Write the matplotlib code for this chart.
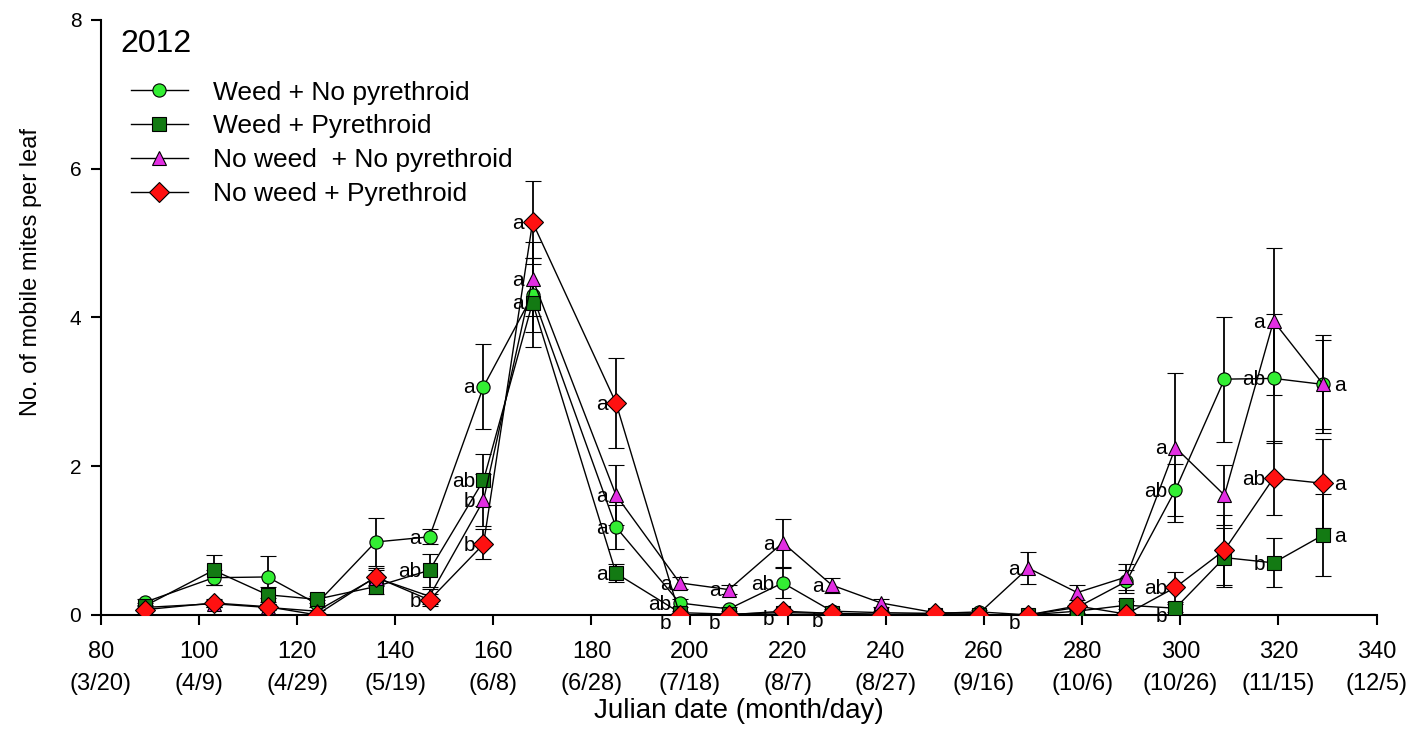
import numpy as np
import matplotlib.pyplot as plt
from matplotlib.lines import Line2D

plt.rcParams['font.family'] = ['Liberation Sans', 'DejaVu Sans']

days = [89, 103, 114, 124, 136, 147, 158, 168, 185, 198, 208, 219,
        229, 239, 250, 259, 269, 279, 289, 299, 309, 319, 329]

weed_nopyr = [0.17, 0.5, 0.51, 0.15, 0.98, 1.05, 3.07, 4.3, 1.18, 0.16, 0.08, 0.43,
              0.05, 0.03, 0.02, 0.04, 0.0, 0.1, 0.45, 1.68, 3.17, 3.18, 3.1]
weed_nopyr_se = [0.05, 0.1, 0.28, 0.05, 0.32, 0.1, 0.57, 0.5, 0.3, 0.05, 0.03, 0.2,
                 0.03, 0.02, 0.01, 0.02, 0.01, 0.04, 0.15, 0.35, 0.84, 0.87, 0.6]

weed_pyr = [0.12, 0.6, 0.27, 0.21, 0.38, 0.6, 1.81, 4.2, 0.56, 0.03, 0.01, 0.03,
            0.02, 0.01, 0.0, 0.0, 0.0, 0.05, 0.13, 0.09, 0.77, 0.7, 1.07]
weed_pyr_se = [0.04, 0.2, 0.1, 0.05, 0.1, 0.22, 0.35, 0.6, 0.12, 0.02, 0.01, 0.02,
               0.01, 0.01, 0.0, 0.0, 0.0, 0.03, 0.05, 0.05, 0.4, 0.33, 0.55]

noweed_nopyr = [0.1, 0.15, 0.1, 0.05, 0.5, 0.25, 1.54, 4.52, 1.61, 0.43, 0.34, 0.97,
                0.4, 0.16, 0.03, 0.02, 0.63, 0.3, 0.51, 2.25, 1.61, 3.95, 3.11]
noweed_nopyr_se = [0.03, 0.05, 0.04, 0.02, 0.1, 0.1, 0.35, 0.5, 0.4, 0.08, 0.06, 0.32,
                   0.1, 0.05, 0.01, 0.01, 0.22, 0.1, 0.18, 1.0, 0.4, 0.99, 0.66]

noweed_pyr = [0.07, 0.16, 0.11, 0.0, 0.51, 0.2, 0.95, 5.28, 2.85, 0.0, 0.0, 0.05,
              0.02, 0.0, 0.02, 0.0, 0.0, 0.12, 0.01, 0.37, 0.87, 1.84, 1.77]
noweed_pyr_se = [0.02, 0.05, 0.03, 0.0, 0.12, 0.08, 0.2, 0.56, 0.6, 0.0, 0.0, 0.02,
                 0.01, 0.0, 0.01, 0.0, 0.0, 0.04, 0.0, 0.2, 0.47, 0.5, 0.6]

series_names = ['Weed + No pyrethroid', 'Weed + Pyrethroid',
                'No weed  + No pyrethroid', 'No weed + Pyrethroid']

xticks = [80, 100, 120, 140, 160, 180, 200, 220, 240, 260, 280, 300, 320, 340]
xdates = ['3/20', '4/9', '4/29', '5/19', '6/8', '6/28', '7/18', '8/7',
          '8/27', '9/16', '10/6', '10/26', '11/15', '12/5']

# letters: (day, letter) per series
letters_g = [(147, 'a'), (158, 'a'), (185, 'a'), (198, 'ab'), (219, 'ab'),
             (299, 'ab'), (319, 'ab')]
letters_s = [(147, 'ab'), (158, 'ab'), (168, 'a'), (185, 'a'), (299, 'b'),
             (319, 'b'), (329, 'a')]
letters_t = [(158, 'b'), (168, 'a'), (185, 'a'), (198, 'a'), (208, 'a'), (219, 'a'),
             (229, 'a'), (269, 'a'), (299, 'a'), (319, 'a'), (329, 'a')]
letters_r = [(147, 'b'), (158, 'b'), (168, 'a'), (185, 'a'), (198, 'b'), (208, 'b'),
             (219, 'b'), (229, 'b'), (269, 'b'), (299, 'ab'), (319, 'ab'), (329, 'a')]

fig = plt.figure(figsize=(14.09, 7.32), dpi=100)
ax = fig.add_axes([0.0715, 0.16, 0.9055, 0.8127])

styles = [
    dict(marker='o', mfc='#33ee33', ms=9.5),
    dict(marker='s', mfc='#137a13', ms=10),
    dict(marker='^', mfc='#e22ee2', ms=10.5),
    dict(marker='D', mfc='#ff1111', ms=10.5),
]
data = [(weed_nopyr, weed_nopyr_se), (weed_pyr, weed_pyr_se),
        (noweed_nopyr, noweed_nopyr_se), (noweed_pyr, noweed_pyr_se)]
all_letters = [letters_g, letters_s, letters_t, letters_r]

handles = []
for (vals, se), st, name in zip(data, styles, series_names):
    ax.errorbar(days, vals, yerr=se, color='black', lw=1.0, elinewidth=1.3,
                capsize=6, capthick=1.3, marker=st['marker'], ms=st['ms'],
                mfc=st['mfc'], mec='black', mew=0.8, zorder=3)
    handles.append(Line2D([], [], color='black', lw=1.0, marker=st['marker'],
                          ms=st['ms'], mfc=st['mfc'], mec='black', mew=0.8))

for (vals, se), lets in zip(data, all_letters):
    for d, lt in lets:
        i = days.index(d)
        if d == 329:
            ax.annotate(lt, (d, vals[i]), xytext=(8, -1), textcoords='offset points',
                        ha='left', va='center', fontsize=15)
        else:
            dy = -1
            if lt == 'b' and vals[i] < 0.1:
                dy = -6
            ax.annotate(lt, (d, vals[i]), xytext=(-6, dy), textcoords='offset points',
                        ha='right', va='center', fontsize=15)

ax.set_xlim(80, 340)
ax.set_ylim(0, 8)
ax.set_xticks(xticks)
ax.set_xticklabels([f'{t}\n({d})' for t, d in zip(xticks, xdates)],
                   fontsize=17, linespacing=1.6)
ax.set_yticks([0, 2, 4, 6, 8])
ax.tick_params(axis='both', direction='out', length=7, width=1.5)
ax.tick_params(axis='x', pad=12)
ax.tick_params(axis='y', pad=7, labelsize=15)
for sp in ['top', 'right']:
    ax.spines[sp].set_visible(False)
for sp in ['left', 'bottom']:
    ax.spines[sp].set_linewidth(1.5)

ax.set_xlabel('Julian date (month/day)', fontsize=20, labelpad=2)
ax.set_ylabel('No. of mobile mites per leaf', fontsize=17)
ax.yaxis.set_label_coords(-0.046, 0.576)

fig.text(120 / 1409, 1 - 44 / 732, '2012', fontsize=23, va='center', ha='left')
ax.legend(handles, series_names, loc='upper left', bbox_to_anchor=(0.005, 0.938),
          frameon=False, fontsize=19, handlelength=2.15, labelspacing=0.37,
          handletextpad=0.95)

fig.savefig('out.png', dpi=100)
